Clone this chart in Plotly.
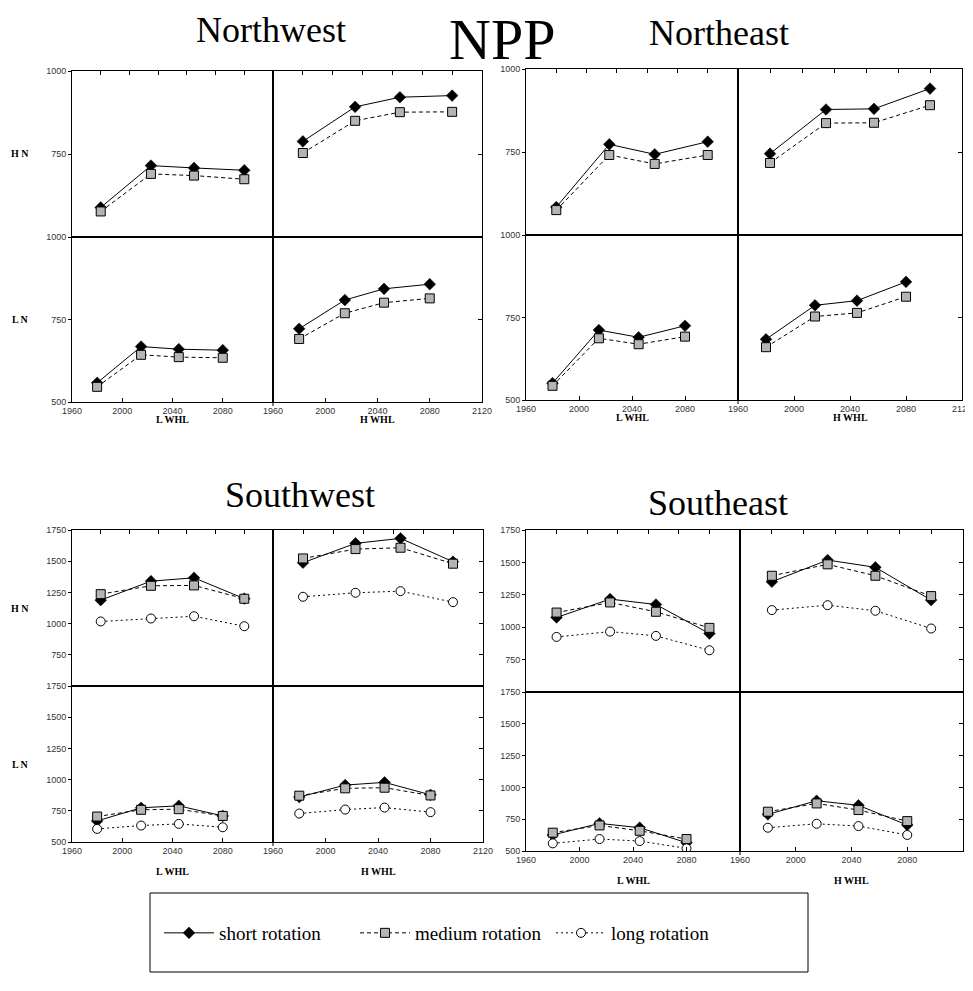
import plotly.graph_objects as go

# the page body adds an 8px margin, so the figure is drawn inside it
OFF = 8
W, H = 973 - OFF, 991 - 2 * OFF

# years of the four time slices
years = [1980, 2015, 2045, 2080]

# panel order in each region: [H N / L WHL, H N / H WHL, L N / L WHL, L N / H WHL]
nw_short = [[589, 715, 708, 701], [788, 892, 921, 926], [558, 668, 660, 657], [722, 809, 843, 857]]
nw_medium = [[577, 690, 685, 674], [753, 850, 876, 877], [546, 643, 636, 634], [691, 769, 801, 814]]

ne_short = [[584, 773, 743, 781], [745, 878, 880, 941], [551, 712, 690, 725], [684, 787, 801, 858]]
ne_medium = [[575, 741, 714, 741], [717, 837, 838, 891], [543, 687, 669, 692], [660, 753, 764, 813]]

sw_short = [[1188, 1340, 1367, 1200], [1488, 1643, 1683, 1496], [669, 774, 790, 709], [860, 956, 978, 878]]
sw_medium = [[1236, 1303, 1306, 1199], [1522, 1597, 1608, 1480], [704, 758, 763, 709], [871, 930, 935, 873]]
sw_long = [[1017, 1041, 1059, 979], [1215, 1247, 1260, 1172], [605, 632, 645, 618], [728, 760, 776, 739]]

se_short = [[1075, 1217, 1175, 951], [1351, 1518, 1462, 1209], [626, 717, 683, 565], [788, 895, 859, 704]]
se_medium = [[1113, 1191, 1119, 995], [1397, 1485, 1397, 1240], [644, 701, 659, 594], [809, 874, 822, 735]]
se_long = [[925, 966, 933, 822], [1132, 1170, 1127, 990], [560, 594, 578, 521], [683, 714, 696, 626]]

north_yticks = [500, 750, 1000]
south_yticks = [500, 750, 1000, 1250, 1500, 1750]
x_ticks = [1960, 2000, 2040, 2080, 2120]

series_names = ["short rotation", "medium rotation", "long rotation"]


def px(x):
    return (x - OFF) / W


def py(y):
    return 1 - (y - OFF) / H


# pixel boxes: left, vertical divider, right, top, horizontal divider, bottom
regions = [
    dict(name="Northwest", box=(72, 273, 482, 71, 237, 402), title_at=(271, 30),
         yticks=north_yticks, series=[nw_short, nw_medium], row_labels=True, xlab_y=420),
    dict(name="Northeast", box=(526, 738, 962, 69, 235, 400), title_at=(719, 33),
         yticks=north_yticks, series=[ne_short, ne_medium], row_labels=False, xlab_y=417),
    dict(name="Southwest", box=(72, 273, 483, 530, 686, 842), title_at=(300, 495),
         yticks=south_yticks, series=[sw_short, sw_medium, sw_long], row_labels=True, xlab_y=871),
    dict(name="Southeast", box=(526, 740, 963, 530, 692, 851), title_at=(718, 503),
         yticks=south_yticks, series=[se_short, se_medium, se_long], row_labels=False, xlab_y=880),
]

line_styles = [
    dict(line=dict(color="black", width=1, dash="solid"),
         marker=dict(symbol="diamond", size=9, color="black", line=dict(color="black", width=0.5))),
    dict(line=dict(color="black", width=1, dash="4px,3px"),
         marker=dict(symbol="square", size=9, color="#b4b4b4", line=dict(color="black", width=1))),
    dict(line=dict(color="black", width=1, dash="2px,3px"),
         marker=dict(symbol="circle", size=9, color="white", line=dict(color="black", width=1))),
]

serif = "Liberation Serif, Times New Roman, serif"
tick_font = dict(family="Liberation Sans, Arial", size=9, color="#333333")
label_font = dict(family=serif, size=10, color="black")

fig = go.Figure()
layout = {}
annotations = []
shapes = []
idx = 0

for region in regions:
    left, vdiv, right, top, hdiv, bottom = region["box"]
    yt = region["yticks"]
    panels = [
        (left, vdiv, top, hdiv, True, True),
        (vdiv, right, top, hdiv, True, False),
        (left, vdiv, hdiv, bottom, False, True),
        (vdiv, right, hdiv, bottom, False, False),
    ]
    for p, (x0, x1, y0, y1, is_top, is_left) in enumerate(panels):
        idx += 1
        sfx = "" if idx == 1 else str(idx)
        xa = dict(
            domain=[px(x0), px(x1)], anchor="y" + sfx, showline=True, linecolor="black",
            linewidth=1, mirror=True, showgrid=False, zeroline=False, automargin=False,
            tickfont=tick_font, ticklen=4, tickcolor="black",
        )
        if is_top:
            # top panels use a shorter time span and only carry tick marks on top
            xa.update(range=[1960, 2100], side="top", ticks="inside", tick0=1960, dtick=20,
                      showticklabels=False)
        else:
            xa.update(range=[1960, 2120], side="bottom", ticks="inside",
                      tickvals=x_ticks[:-1] if is_left else x_ticks)
        ya = dict(
            domain=[py(y1), py(y0)], anchor="x" + sfx, range=[yt[0], yt[-1]], showline=True,
            linecolor="black", linewidth=1, mirror=True, showgrid=False, zeroline=False,
            automargin=False, tickfont=tick_font, tickcolor="black",
        )
        if is_left:
            ya.update(side="left", ticks="outside", ticklen=3,
                      tickvals=yt[1:] if is_top else yt)
        else:
            ya.update(side="right", ticks="inside", ticklen=4, tickvals=yt,
                      showticklabels=False)
        layout["xaxis" + sfx] = xa
        layout["yaxis" + sfx] = ya

        for s, data in enumerate(region["series"]):
            fig.add_trace(go.Scatter(
                x=years, y=data[p], mode="lines+markers", name=series_names[s],
                legendgroup=series_names[s],
                showlegend=(region["name"] == "Southwest" and p == 0),
                xaxis="x" + sfx, yaxis="y" + sfx, **line_styles[s],
            ))

    # divider pokes a little below the bottom axis
    shapes.append(dict(type="line", xref="paper", yref="paper", x0=px(vdiv), x1=px(vdiv),
                       y0=py(bottom), y1=py(bottom + 4), line=dict(color="black", width=1)))

    # region title
    tx, ty = region["title_at"]
    annotations.append(dict(text=region["name"], x=px(tx), y=py(ty), xref="paper", yref="paper",
                            xanchor="center", yanchor="middle", showarrow=False,
                            font=dict(family=serif, size=36, color="black")))
    # column titles
    for cx, txt in [((left + vdiv) / 2, "L WHL"), ((vdiv + right) / 2, "H WHL")]:
        annotations.append(dict(text="<b>" + txt + "</b>", x=px(cx), y=py(region["xlab_y"]),
                                xref="paper", yref="paper", xanchor="center", yanchor="middle",
                                showarrow=False, font=label_font))
    # row labels
    if region["row_labels"]:
        for cy, txt in [((top + hdiv) / 2, "H N"), ((hdiv + bottom) / 2, "L N")]:
            annotations.append(dict(text="<b>" + txt + "</b>", x=px(20), y=py(cy),
                                    xref="paper", yref="paper", xanchor="center",
                                    yanchor="middle", showarrow=False, font=label_font))

annotations.append(dict(text="NPP", x=px(502), y=py(40), xref="paper", yref="paper",
                        xanchor="center", yanchor="middle", showarrow=False,
                        font=dict(family=serif, size=58, color="black")))

shapes.append(dict(type="rect", xref="paper", yref="paper", x0=px(150), x1=px(808),
                   y0=py(972), y1=py(893), line=dict(color="black", width=1)))

fig.update_layout(
    width=W, height=H, margin=dict(l=0, r=0, t=0, b=0),
    paper_bgcolor="white", plot_bgcolor="white",
    annotations=annotations,
    shapes=shapes,
    legend=dict(orientation="h", x=px(159), y=py(933), xanchor="left", yanchor="middle",
                font=dict(family=serif, size=19, color="black"),
                itemwidth=50, entrywidth=131, entrywidthmode="pixels",
                bgcolor="rgba(0,0,0,0)", traceorder="normal"),
    **layout,
)

fig.write_html("out.html")
